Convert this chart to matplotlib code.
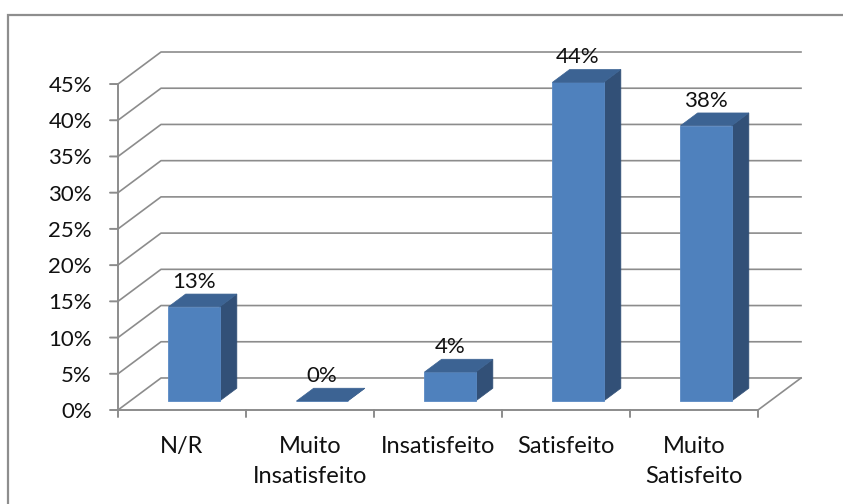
import matplotlib.pyplot as plt
from matplotlib.patches import Polygon, Rectangle

plt.rcParams['font.family'] = ['Lato', 'DejaVu Sans']

categories = ['N/R', 'Muito\nInsatisfeito', 'Insatisfeito', 'Satisfeito', 'Muito\nSatisfeito']
values = [13, 0, 4, 44, 38]
y_ticks = [0, 5, 10, 15, 20, 25, 30, 35, 40, 45]
tick_labels = [f'{t}%' for t in y_ticks]

# depth of the 3d box in data units (x in category slots, y in percent)
DX, DY = 0.336, 4.42
BAR_W = 0.4
D_FRONT, D_BACK = 0.28, 0.68

FRONT = '#4F81BD'
TOP = '#3C6393'
SIDE = '#325077'
GRID = '#8c8c8c'
TXT = '#111111'

fig = plt.figure(figsize=(8.43, 5.04), dpi=100)
ax = fig.add_axes([0, 0, 1, 1])
ax.set_xlim(-118 / 128, (843 - 118) / 128)
ax.set_ylim((410 - 504) / 7.244, 410 / 7.244)
ax.axis('off')

# outer frame of the chart area
fig.patches.append(Rectangle((8 / 843, -0.2), 1.2, 1.2 - 15 / 504,
                             transform=fig.transFigure, fill=False,
                             edgecolor='#8e8e8e', lw=1.6))

n = len(categories)

# back wall gridlines and side wall diagonals
for t in y_ticks:
    ax.plot([0, DX, n + DX], [t, t + DY, t + DY], color=GRID, lw=1.2, zorder=1)

# floor edges
ax.plot([n, n + DX], [0, DY], color=GRID, lw=1.2, zorder=1)
ax.plot([0, n], [0, 0], color=GRID, lw=1.4, zorder=1)

# value axis with ticks
ax.plot([0, 0], [0, y_ticks[-1]], color=GRID, lw=1.4, zorder=1)
for t, lab in zip(y_ticks, tick_labels):
    ax.annotate('', xy=(0, t), xytext=(-8, 0), textcoords='offset pixels',
                arrowprops=dict(arrowstyle='-', color=GRID, lw=1.4, shrinkA=0, shrinkB=0))
    ax.annotate(lab, (0, t), xytext=(-26, 0), textcoords='offset pixels',
                ha='right', va='center_baseline', fontsize=16, color=TXT)

# category ticks and labels
for i in range(n + 1):
    ax.annotate('', xy=(i, 0), xytext=(0, -7), textcoords='offset pixels',
                arrowprops=dict(arrowstyle='-', color=GRID, lw=1.4, shrinkA=0, shrinkB=0))
for i, lab in enumerate(categories):
    ax.annotate(lab, (i + 0.5, 0), xytext=(0, -26), textcoords='offset pixels',
                ha='center', va='top', fontsize=17, linespacing=1.55, color=TXT)

# 3d columns
for i, v in enumerate(values):
    x0 = i + 0.5 - BAR_W / 2 + D_FRONT * DX
    x1 = x0 + BAR_W
    y0 = D_FRONT * DY
    ox = (D_BACK - D_FRONT) * DX
    oy = (D_BACK - D_FRONT) * DY
    side = [(x1, y0), (x1 + ox, y0 + oy), (x1 + ox, y0 + oy + v), (x1, y0 + v)]
    top = [(x0, y0 + v), (x1, y0 + v), (x1 + ox, y0 + oy + v), (x0 + ox, y0 + oy + v)]
    front = [(x0, y0), (x1, y0), (x1, y0 + v), (x0, y0 + v)]
    ax.add_patch(Polygon(side, closed=True, facecolor=SIDE, edgecolor=SIDE, lw=0.5, zorder=3))
    ax.add_patch(Polygon(front, closed=True, facecolor=FRONT, edgecolor='#5a8ac4', lw=0.6, zorder=3))
    ax.add_patch(Polygon(top, closed=True, facecolor=TOP, edgecolor=TOP, lw=0.5, zorder=4))
    ax.annotate(f'{v}%', ((x0 + x1) / 2, y0 + oy + v), xytext=(0, 6),
                textcoords='offset pixels', ha='center', va='baseline',
                fontsize=16, color=TXT, zorder=5)

fig.savefig('out.png', dpi=100)
